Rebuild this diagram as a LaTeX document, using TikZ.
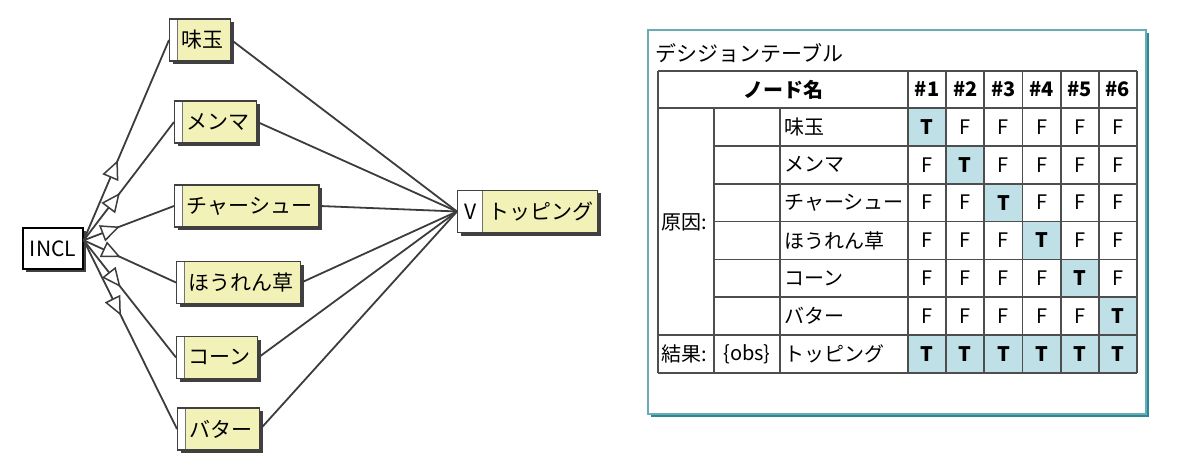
\documentclass[tikz,border=0pt]{standalone}
\usepackage{fontspec}
\setmainfont{Noto Sans CJK JP}
\usetikzlibrary{arrows.meta,decorations.markings,shadows}
\definecolor{nodeyellow}{HTML}{F2F2B8}
\definecolor{linkgray}{HTML}{3C3C3C}
\definecolor{gridgray}{HTML}{4E4E4E}
\definecolor{cellblue}{HTML}{BFE0E7}
\definecolor{framecyan}{HTML}{2A8895}
\tikzset{
  nodeshadow/.style={drop shadow={shadow xshift=1.5pt, shadow yshift=-1.5pt, fill=black!75, opacity=1}},
  ybox/.style={draw=black!75, line width=0.7pt, fill=nodeyellow, anchor=west, minimum height=21pt,
    inner xsep=0pt, inner ysep=0pt, nodeshadow, font=\fontsize{10.5}{12}\selectfont},
  cause/.style={ybox, execute at begin node={\hspace*{6pt}}, execute at end node={\hspace*{3.5pt}},
    path picture={\fill[white] (path picture bounding box.north west) rectangle ([xshift=4pt]path picture bounding box.south west);
      \draw[black!55, line width=0.4pt] ([xshift=4pt]path picture bounding box.north west) -- ([xshift=4pt]path picture bounding box.south west);}},
  effect/.style={ybox, execute at begin node={\makebox[12.5pt]{V}\hspace*{3pt}}, execute at end node={\hspace*{2pt}},
    path picture={\fill[white] (path picture bounding box.north west) rectangle ([xshift=12.5pt]path picture bounding box.south west);
      \draw[black!55, line width=0.4pt] ([xshift=12.5pt]path picture bounding box.north west) -- ([xshift=12.5pt]path picture bounding box.south west);}},
  inclbox/.style={draw=black, line width=0.7pt, fill=white, minimum width=30pt, minimum height=20.5pt, inner sep=0pt,
    nodeshadow, font=\fontsize{10.5}{12}\selectfont},
  link/.style={draw=linkgray, line width=0.9pt},
  midtri/.style={postaction={decorate, decoration={markings, mark=at position 0.4 with {\arrow{Triangle[fill=white, length=9.5pt, width=8.5pt, line width=0.75pt]}}}}},
  cell/.style={inner sep=0pt, font=\fontsize{10}{12}\selectfont},
  grid/.style={draw=gridgray, line width=0.9pt}
}
\begin{document}
\begin{tikzpicture}[x=0.5pt, y=-0.5pt]
\useasboundingbox (0,0) rectangle (1200,460);
\node[inclbox] (incl) at (53,248.5) {INCL};
\node[cause] (ajitama) at (169,40) {味玉};
\node[cause] (menma) at (174,122) {メンマ};
\node[cause] (chashu) at (174,206) {チャーシュー};
\node[cause] (horenso) at (176,282.5) {ほうれん草};
\node[cause] (corn) at (176,357.5) {コーン};
\node[cause] (butter) at (177,429) {バター};
\node[effect] (topping) at (457,211.5) {トッピング};
\foreach \c in {ajitama,menma,chashu,horenso,corn,butter} {
  \draw[link, midtri] (incl.15) -- (\c.west);
  \draw[link] (\c.east) -- (topping.west);
}
\draw[framecyan!70, line width=0.9pt, fill=white, drop shadow={shadow xshift=1.5pt, shadow yshift=-1.5pt, fill=framecyan, opacity=1}] (648,30) rectangle (1146,414);
\node[cell, anchor=west, font=\fontsize{10.5}{12}\selectfont] (title) at (655,53) {デシジョンテーブル};
\foreach \r/\name in {1/味玉,2/メンマ,3/チャーシュー,4/ほうれん草,5/コーン,6/バター} {
  \pgfmathsetmacro\yc{108+37.857*(\r-0.5)}
  \node[cell, anchor=west] (name\r) at (784,\yc) {\name};
  \foreach \k in {1,...,6} {
    \pgfmathsetmacro\xc{908+38.17*(\k-0.5)}
    \ifnum\k=\r
      \fill[cellblue] ({908+38.17*(\k-1)},{108+37.857*(\r-1)}) rectangle ++(38.17,37.857);
      \node[cell] (v\r-\k) at (\xc,\yc) {\textbf{T}};
    \else
      \node[cell] (v\r-\k) at (\xc,\yc) {F};
    \fi
  }
}
\fill[cellblue] (908,335.14) rectangle (1137,373);
\foreach \k in {1,...,6} {
  \pgfmathsetmacro\xc{908+38.17*(\k-0.5)}
  \node[cell] (h\k) at (\xc,89.5) {\textbf{\#\k}};
  \node[cell] (v7-\k) at (\xc,354.1) {\textbf{T}};
}
\node[cell] (hname) at (783,89.5) {\textbf{ノード名}};
\node[cell, anchor=west] (causes) at (661,222) {原因:};
\node[cell, anchor=west] (result) at (661,354.1) {結果:};
\node[cell] (obs) at (747,354.1) {\{obs\}};
\node[cell, anchor=west] (name7) at (784,354.1) {トッピング};
\foreach \y in {71,108,335.14,373}
  \draw[grid] (658,\y) -- (1137,\y);
\foreach \y in {145.86,183.71,221.57,259.43,297.29}
  \draw[grid] (714,\y) -- (1137,\y);
\foreach \x in {658,908,946.17,984.34,1022.51,1060.68,1098.85,1137}
  \draw[grid] (\x,71) -- (\x,373);
\foreach \x in {714,780}
  \draw[grid] (\x,108) -- (\x,373);
\end{tikzpicture}
\end{document}
